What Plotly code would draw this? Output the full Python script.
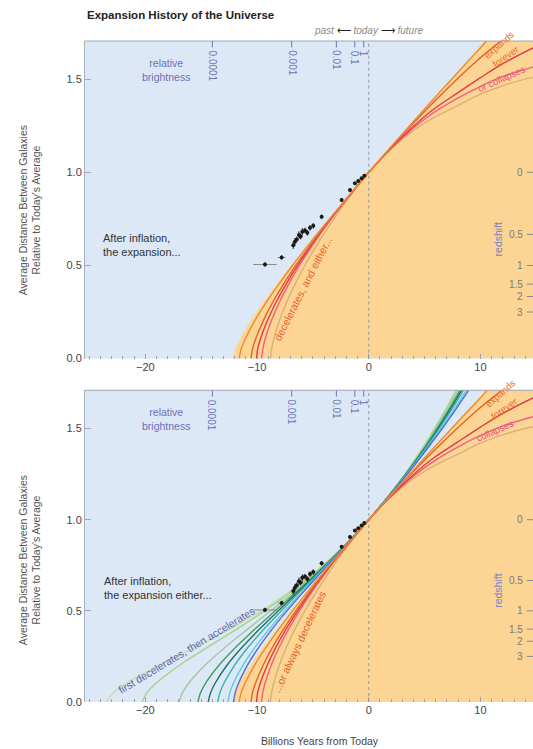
import plotly.graph_objects as go

# ---------------- data ----------------
y_levels_past = [0, 0.05, 0.1, 0.2, 0.3, 0.4, 0.5, 0.6, 0.7, 0.8, 0.9, 1.0]

# boundary of the orange "decelerating" region
edge_x = [-12.2, -11.96, -11.58, -10.6, -9.46, -8.23, -6.94, -5.61, -4.24, -2.85, -1.43, 0, 2.91, 5.86, 8.84, 10.4, 11.0]
edge_y = [0, 0.05, 0.1, 0.2, 0.3, 0.4, 0.5, 0.6, 0.7, 0.8, 0.9, 1.0, 1.2, 1.4, 1.6, 1.71, 1.76]

# decelerating models (past part, x at y_levels_past)
L1_past = [-11.6, -11.43, -11.1, -10.24, -9.2, -8.05, -6.83, -5.54, -4.21, -2.83, -1.43, 0]
L2_past = [-10.54, -10.41, -10.16, -9.47, -8.62, -7.63, -6.53, -5.35, -4.10, -2.79, -1.42, 0]
L3_past = [-10.05, -9.95, -9.73, -9.1, -8.32, -7.4, -6.37, -5.25, -4.04, -2.76, -1.41, 0]
L4_past = [-9.6, -9.49, -9.30, -8.74, -8.02, -7.17, -6.21, -5.14, -3.98, -2.73, -1.40, 0]
L5_past = [-8.8, -8.7, -8.52, -8.02, -7.37, -6.6, -5.72, -4.74, -3.68, -2.55, -1.32, 0]

# decelerating models (future part)
L1_fut_x = [1.45, 2.92, 5.9, 8.94, 10.47, 11.0]
L1_fut_y = [1.1, 1.2, 1.4, 1.6, 1.7, 1.74]
L2_fut_x = [3.0, 6.2, 9.7, 11.9, 12.6]
L2_fut_y = [1.2, 1.4, 1.6, 1.71, 1.75]
L3_fut_x = [2, 4, 5.77, 8, 10, 12, 14.7, 15.5]
L3_fut_y = [1.131, 1.247, 1.337, 1.428, 1.508, 1.583, 1.668, 1.69]
L4_fut_x = [2, 4, 5.77, 8, 10, 12, 14.7, 15.5]
L4_fut_y = [1.129, 1.238, 1.319, 1.40, 1.462, 1.515, 1.565, 1.577]
L5_fut_x = [2, 4, 5.77, 8, 10, 12, 14.7, 15.5]
L5_fut_y = [1.125, 1.225, 1.292, 1.36, 1.42, 1.465, 1.51, 1.515]

decel_colors = ["#ee8a2e", "#e4602c", "#e03a48", "#f0607e", "#dcae7a"]

# accelerating models (bottom panel), x at y_levels_acc
y_levels_acc = [0, 0.05, 0.1, 0.2, 0.3, 0.4, 0.5, 0.6, 0.7, 0.8, 0.9, 1.0, 1.2, 1.4, 1.6, 1.75]
G1 = [-23.48, -22.88, -21.79, -18.85, -15.56, -12.42, -9.64, -7.20, -5.07, -3.19, -1.51, 0, 2.64, 4.88, 6.82, 8.13]
G2 = [-20.28, -19.86, -19.09, -16.98, -14.44, -11.82, -9.33, -7.06, -5.01, -3.17, -1.51, 0, 2.65, 4.90, 6.87, 8.20]
G3 = [-16.97, -16.68, -16.16, -14.69, -12.86, -10.84, -8.78, -6.77, -4.88, -3.12, -1.50, 0, 2.67, 4.98, 7.00, 8.37]
G4 = [-15.30, -15.06, -14.64, -13.43, -11.91, -10.19, -8.38, -6.55, -4.77, -3.07, -1.49, 0, 2.69, 5.05, 7.13, 8.54]
G5 = [-14.37, -14.16, -13.78, -12.71, -11.34, -9.78, -8.11, -6.39, -4.70, -3.05, -1.48, 0, 2.71, 5.11, 7.24, 8.69]
G6 = [-13.52, -13.33, -12.99, -12.03, -10.80, -9.38, -7.83, -6.23, -4.61, -3.02, -1.48, 0, 2.73, 5.18, 7.37, 8.87]
G7 = [-12.61, -12.44, -12.14, -11.28, -10.19, -8.91, -7.51, -6.03, -4.50, -2.97, -1.47, 0, 2.76, 5.29, 7.58, 9.15]
G8 = [-12.11, -11.96, -11.68, -10.88, -9.85, -8.65, -7.32, -5.90, -4.43, -2.94, -1.46, 0, 2.79, 5.37, 7.73, 9.36]
acc_colors = ["#c4e0a2", "#a4d38a", "#a6c6a4", "#3f9f5a", "#1f6f66", "#36b4a6", "#5cc8e6", "#5a6ccc"]

# supernova data points
sn_x = [-9.29, -7.80, -6.76, -6.61, -6.45, -6.25, -6.10, -5.95, -5.71, -5.50, -5.26, -4.97, -4.22, -2.43, -1.68, -1.24, -0.94, -0.64, -0.40]
sn_y = [0.505, 0.543, 0.609, 0.627, 0.640, 0.663, 0.655, 0.681, 0.688, 0.675, 0.702, 0.713, 0.761, 0.851, 0.905, 0.941, 0.953, 0.968, 0.982]
sn_xerr = [1.05, 0.35, 0, 0, 0, 0, 0, 0, 0, 0, 0, 0, 0, 0, 0, 0, 0, 0, 0]
sn_yerr = [0.012, 0.012, 0.02, 0.02, 0.015, 0.02, 0.015, 0.02, 0.015, 0.015, 0.015, 0.015, 0.012, 0.01, 0.008, 0.008, 0.006, 0.006, 0.006]

# right-hand redshift scale and top brightness scale
redshift_ticks = [0, 0.5, 1, 1.5, 2, 3]
redshift_labels = ["0", "0.5", "1", "1.5", "2", "3"]
brightness_labels = ["0.0001", "0.001", "0.01", "0.1", "1"]
brightness_pos = [-14.0, -6.9, -2.9, -1.25, -0.45]

x_ticks = [-20, -10, 0, 10]
y_ticks = [0, 0.5, 1.0, 1.5]

# ---------------- figure ----------------
FONT = "Liberation Sans, Arial, Helvetica, sans-serif"
fig = go.Figure()

panels = [("x", "y", 1.705), ("x2", "y2", 1.71)]

for xa, ya, ytop in panels:
    # orange region
    fig.add_trace(go.Scatter(
        x=edge_x + [16, 16], y=edge_y + [edge_y[-1], 0],
        fill="toself", fillcolor="#fcd594", mode="lines",
        line=dict(width=0, color="#fcd594"), line_shape="spline",
        hoverinfo="skip", showlegend=False, xaxis=xa, yaxis=ya))

# accelerating curves (bottom panel)
for xs, c in zip([G1, G2, G3, G4, G5, G6, G7, G8], acc_colors):
    fig.add_trace(go.Scatter(
        x=xs, y=y_levels_acc, mode="lines", line=dict(color=c, width=1.4),
        line_shape="spline", hoverinfo="skip", showlegend=False,
        xaxis="x2", yaxis="y2"))

decel = [
    (L1_past, L1_fut_x, L1_fut_y),
    (L2_past, L2_fut_x, L2_fut_y),
    (L3_past, L3_fut_x, L3_fut_y),
    (L4_past, L4_fut_x, L4_fut_y),
    (L5_past, L5_fut_x, L5_fut_y),
]
for xa, ya, ytop in panels:
    for (past, fx, fy), c in zip(decel[::-1], decel_colors[::-1]):
        fig.add_trace(go.Scatter(
            x=past + fx, y=y_levels_past + fy, mode="lines",
            line=dict(color=c, width=1.4), line_shape="spline",
            hoverinfo="skip", showlegend=False, xaxis=xa, yaxis=ya))
    # data points
    fig.add_trace(go.Scatter(
        x=sn_x, y=sn_y, mode="markers",
        marker=dict(color="#1a1a1a", size=4),
        error_x=dict(type="data", array=sn_xerr, color="#8a8a8a", thickness=1, width=0),
        error_y=dict(type="data", array=sn_yerr, color="#222", thickness=1, width=0),
        hoverinfo="skip", showlegend=False, xaxis=xa, yaxis=ya))

shapes = []
annotations = []
for xa, ya, ytop in panels:
    yd = ya + " domain"
    xd = xa + " domain"
    # today line
    shapes.append(dict(type="line", xref=xa, yref=yd, x0=0, x1=0, y0=0, y1=1,
                       line=dict(color="#8e98a8", width=1, dash="dot"), layer="above"))
    # top border
    shapes.append(dict(type="line", xref=xd, yref=yd, x0=0, x1=1, y0=1, y1=1,
                       line=dict(color="#9ea6b4", width=1)))
    # brightness scale
    for lab, pos in zip(brightness_labels, brightness_pos):
        shapes.append(dict(type="line", xref=xa, yref=ya, x0=pos, x1=pos,
                           y0=ytop, y1=ytop - 0.035, line=dict(color="#6d72b5", width=1)))
        annotations.append(dict(xref=xa, yref=ya, x=pos, y=ytop - 0.04, text=lab,
                                textangle=90, showarrow=False, xanchor="center", yanchor="top",
                                font=dict(size=10, color="#6d72b5", family=FONT)))
    annotations.append(dict(xref=xa, yref=ya, x=-18.15, y=ytop - 0.155,
                            text="relative<br>brightness", showarrow=False, align="center",
                            font=dict(size=10.5, color="#6d72b5", family=FONT)))
    # redshift scale
    for z, lab in zip(redshift_ticks, redshift_labels):
        a = 1.0 / (1.0 + z)
        shapes.append(dict(type="line", xref=xa, yref=ya, x0=14.15, x1=14.7, y0=a, y1=a,
                           line=dict(color="#8a8a8a", width=1)))
        annotations.append(dict(xref=xa, yref=ya, x=13.95, y=a, text=lab, showarrow=False,
                                xanchor="right", yanchor="middle",
                                font=dict(size=10, color="#7a7a7a", family=FONT)))

# panel texts
annotations += [
    dict(xref="x", yref="y", x=11.57, y=0.64, text="redshift", textangle=-90, showarrow=False,
         font=dict(size=10.5, color="#7a7ec0", family=FONT)),
    dict(xref="x2", yref="y2", x=11.57, y=0.61, text="redshift", textangle=-90, showarrow=False,
         font=dict(size=10.5, color="#7a7ec0", family=FONT)),
    dict(xref="x", yref="y", x=-24.0, y=0.61, text="After inflation,<br>the expansion...",
         showarrow=False, xanchor="left", align="left",
         font=dict(size=11, color="#333", family=FONT)),
    dict(xref="x2", yref="y2", x=-23.9, y=0.627, text="After inflation,<br>the expansion either...",
         showarrow=False, xanchor="left", align="left",
         font=dict(size=11, color="#333", family=FONT)),
    dict(xref="x", yref="y", x=-5.95, y=0.376, text="decelerates, and either...", textangle=-63,
         showarrow=False, font=dict(size=10.5, color="#e8602a", family=FONT)),
    dict(xref="x2", yref="y2", x=-16.3, y=0.284, text="first decelerates, then accelerates",
         textangle=-31, showarrow=False, font=dict(size=10.5, color="#5b5fae", family=FONT)),
    dict(xref="x2", yref="y2", x=-6.25, y=0.33, text="...or always decelerates", textangle=-65,
         showarrow=False, font=dict(size=10.5, color="#e8602a", family=FONT)),
    # future labels
    dict(xref="x", yref="y", x=11.7, y=1.685, text="expands", textangle=-42, showarrow=False,
         font=dict(size=9.5, color="#e8702a", family=FONT)),
    dict(xref="x", yref="y", x=12.25, y=1.62, text="forever", textangle=-35, showarrow=False,
         font=dict(size=9.5, color="#e8702a", family=FONT)),
    dict(xref="x", yref="y", x=11.9, y=1.505, text="or collapses", textangle=-24, showarrow=False,
         font=dict(size=9.5, color="#e8507a", family=FONT)),
    dict(xref="x2", yref="y2", x=11.75, y=1.695, text="expands", textangle=-42, showarrow=False,
         font=dict(size=9.5, color="#e8702a", family=FONT)),
    dict(xref="x2", yref="y2", x=12.1, y=1.612, text="forever", textangle=-35, showarrow=False,
         font=dict(size=9.5, color="#e8702a", family=FONT)),
    dict(xref="x2", yref="y2", x=11.3, y=1.49, text="collapses", textangle=-24, showarrow=False,
         font=dict(size=9.5, color="#e8507a", family=FONT)),
    # titles
    dict(xref="paper", yref="paper", x=0.0, y=1.0393, xanchor="left", yanchor="middle",
         text="<b>Expansion History of the Universe</b>", showarrow=False,
         font=dict(size=11.5, color="#222", family=FONT)),
    dict(xref="x", yref="paper", x=0, y=1.0166, xanchor="center", yanchor="middle",
         text="<i>past</i> <span style='color:#222'>\u27f5</span> <i>today</i> "
              "<span style='color:#222'>\u27f6</span> <i>future</i>",
         showarrow=False, font=dict(size=10, color="#8a8a8a", family=FONT)),
    dict(xref="paper", yref="paper", x=-0.1228, y=0.744, textangle=-90,
         xanchor="center", yanchor="middle",
         text="Average Distance Between Galaxies<br>Relative to Today's Average",
         showarrow=False, font=dict(size=10.5, color="#555", family=FONT)),
    dict(xref="paper", yref="paper", x=-0.1228, y=0.2146, textangle=-90,
         xanchor="center", yanchor="middle",
         text="Average Distance Between Galaxies<br>Relative to Today's Average",
         showarrow=False, font=dict(size=10.5, color="#555", family=FONT)),
    dict(xref="x2", yref="paper", x=-4.37, y=-0.0595, xanchor="center", yanchor="middle",
         text="Billions Years from Today", showarrow=False,
         font=dict(size=10.5, color="#444", family=FONT)),
]

xaxis_common = dict(
    range=[-25.4, 14.7], tickvals=x_ticks, showgrid=False, zeroline=False,
    ticks="inside", ticklen=5, tickcolor="#98a2b0", showline=False,
    minor=dict(dtick=1, ticks="inside", ticklen=3, tickcolor="#98a2b0", showgrid=False),
    tickfont=dict(size=11, color="#444", family=FONT),
)
yaxis_common = dict(
    tickvals=y_ticks, tickformat=".1f", showgrid=False, zeroline=False,
    ticks="inside", ticklen=6, tickcolor="#a0a8b6", showline=True,
    linecolor="#a8b0be", linewidth=1,
    tickfont=dict(size=11, color="#444", family=FONT),
)

fig.update_layout(
    width=533, height=749,
    margin=dict(l=85, r=0, t=41, b=47),
    paper_bgcolor="white", plot_bgcolor="#dce8f5",
    font=dict(family=FONT),
    showlegend=False,
    xaxis=dict(domain=[0, 1], anchor="y", **xaxis_common),
    yaxis=dict(domain=[0.5195, 1], anchor="x", range=[0, 1.705], **yaxis_common),
    xaxis2=dict(domain=[0, 1], anchor="y2", **xaxis_common),
    yaxis2=dict(domain=[0, 0.4716], anchor="x2", range=[0, 1.71], **yaxis_common),
    shapes=shapes, annotations=annotations,
)

fig.write_html(
    "out.html",
    config={"displayModeBar": False},
    post_script="document.body.style.margin='0';document.body.style.overflow='hidden';",
)
